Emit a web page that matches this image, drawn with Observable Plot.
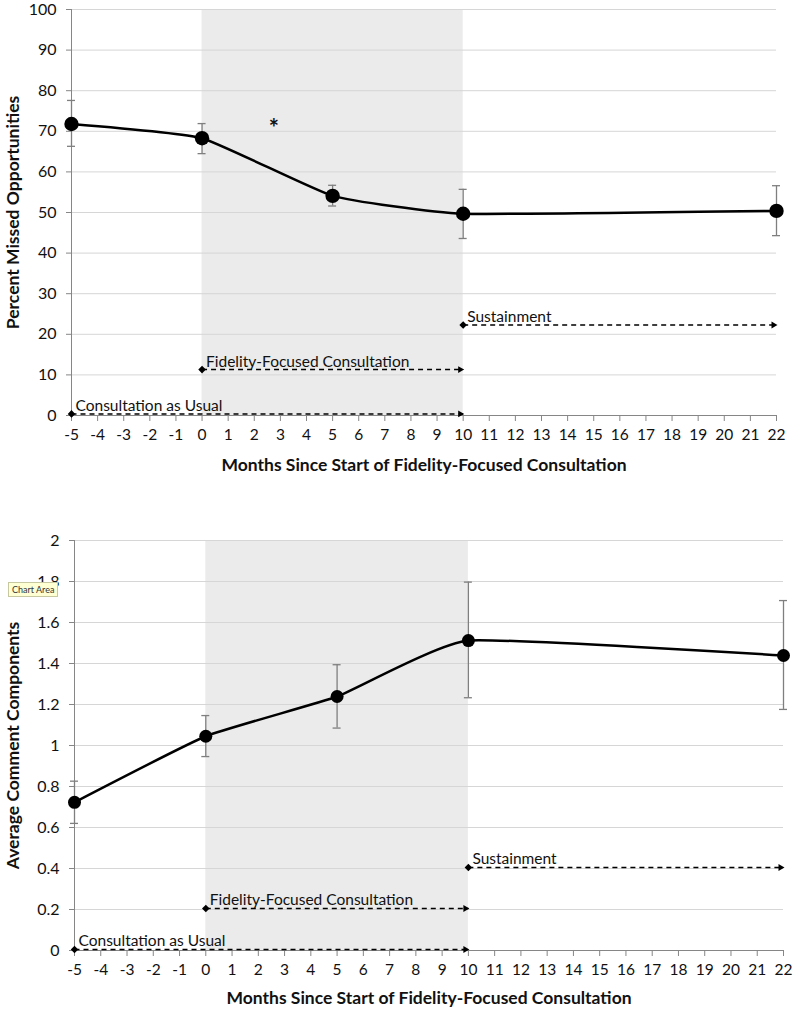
<!DOCTYPE html>
<html><head><meta charset="utf-8">
<script src="https://cdn.jsdelivr.net/npm/d3@7"></script>
<script src="https://cdn.jsdelivr.net/npm/@observablehq/plot@0.6"></script>
<style>
body{margin:0;background:#fff;}
#wrap{position:relative;width:800px;height:1013px;font-family:Lato,sans-serif;}
#top{position:absolute;left:0;top:0;}
#bottom{position:absolute;left:0;top:500px;}
#tip{position:absolute;left:8px;top:582px;font:9px Lato,sans-serif;color:#333;background:#ffffd4;border:1px solid #c8c8a0;padding:1px 3px;line-height:11px;}
</style></head><body>
<div id="wrap"><div id="top"></div><div id="bottom"></div><div id="tip">Chart Area</div></div>
<script>
// ---- data ----
const months = [-5, 0, 5, 10, 22];
const monthTicks = d3.range(-5, 23);

const missedPct = [71.8, 68.3, 54.1, 49.7, 50.4];
const missedLo  = [66.3, 64.5, 51.6, 43.6, 44.3];
const missedHi  = [77.6, 71.9, 56.7, 55.7, 56.6];
const missedTicks = d3.range(0, 101, 10);

const comments   = [0.723, 1.045, 1.239, 1.512, 1.439];
const commentsLo = [0.620, 0.946, 1.085, 1.233, 1.176];
const commentsHi = [0.826, 1.146, 1.394, 1.797, 1.707];
const commentTicks = d3.range(0, 11).map(i => i / 5);

const phases      = ["Consultation as Usual", "Fidelity-Focused Consultation", "Sustainment"];
const phaseStart  = [-5, 0, 10];
const phaseEnd    = [10, 10, 22];
const phaseLevelTop    = [0.4, 11.3, 22.3];
const phaseLevelBottom = [0.005, 0.205, 0.405];

const shadeStart = 0, shadeEnd = 10;
const starMonth = 2.75, starValue = 70.5;

const xTitle = "Months Since Start of Fidelity-Focused Consultation";

function chart(o) {
  const pts = months.map((m, i) => ({m, v: o.vals[i], lo: o.lo[i], hi: o.hi[i]}));
  const ph = phases.map((name, i) => ({name, s: phaseStart[i], e: phaseEnd[i], y: o.levels[i]}));
  const marks = [
    Plot.rectY([{x1: shadeStart, x2: shadeEnd}], {x1: "x1", x2: "x2", y1: o.ydomain[0], y2: o.ydomain[1], fill: "#ebebeb"}),
    Plot.gridY(o.yticks.filter(t => t > 0), {stroke: "#d6d6d6", strokeOpacity: 1, strokeWidth: 1}),
    Plot.ruleX([-5], {stroke: "#868686", strokeWidth: 1}),
    Plot.ruleY([0], {stroke: "#868686", strokeWidth: 1}),
    Plot.axisY(o.yticks, {tickSize: 5, tickPadding: 10, fontSize: 16, stroke: "#868686", fill: "#111", tickFormat: o.fmt, label: null}),
    Plot.axisX(monthTicks, {tickSize: 6, tickPadding: 7, fontSize: 15.5, stroke: "#868686", fill: "#111", tickFormat: d => String(d), label: null}),
    Plot.text([o.ytitle], {frameAnchor: "left", textAnchor: "middle", dx: o.ytdx, rotate: -90, fontSize: 17.5, fontWeight: "bold", fill: "#111"}),
    Plot.text([xTitle], {frameAnchor: "bottom", textAnchor: "middle", dy: o.xtdy, fontSize: 17.5, fontWeight: "bold", fill: "#111"}),
    // error bars
    Plot.ruleX(pts, {x: "m", y1: "lo", y2: "hi", stroke: "#7f7f7f", strokeWidth: 1.3}),
    Plot.ruleY(pts, {y: "lo", x1: "m", x2: "m", insetLeft: -4, insetRight: -4, stroke: "#7f7f7f", strokeWidth: 1.3}),
    Plot.ruleY(pts, {y: "hi", x1: "m", x2: "m", insetLeft: -4, insetRight: -4, stroke: "#7f7f7f", strokeWidth: 1.3}),
    // line & dots
    Plot.line(pts, {x: "m", y: "v", curve: "cardinal", tension: 0.6, stroke: "#000", strokeWidth: 2.5}),
    Plot.dot(pts, {x: "m", y: "v", r: o.r, fill: "#000"}),
    // phase annotations
    Plot.link(ph, {x1: "s", x2: "e", y1: "y", y2: "y", stroke: "#000", strokeWidth: 1.5, strokeDasharray: "5,4", insetRight: 3}),
    Plot.dot(ph, {x: "s", y: "y", symbol: "diamond2", r: 3.4, fill: "#000"}),
    Plot.dot(ph, {x: "e", y: "y", symbol: "triangle2", r: 3.3, fill: "#000", rotate: 90, dx: -3}),
    Plot.text(ph, {x: "s", y: "y", text: "name", textAnchor: "start", lineAnchor: "bottom", dx: 4, dy: -3, fontSize: 15.5, fill: "#111"})
  ];
  if (o.star) marks.push(Plot.text(["*"], {x: starMonth, y: starValue, fontSize: 24, fontWeight: "bold", fill: "#111"}));
  return Plot.plot({
    width: 800, height: o.height,
    marginTop: o.mt, marginBottom: o.mb, marginLeft: o.ml, marginRight: o.mr,
    style: {fontFamily: "Lato, sans-serif", background: "transparent", overflow: "visible"},
    x: {domain: [-5, 22], axis: null},
    y: {domain: o.ydomain, axis: null},
    marks
  });
}

document.getElementById("top").append(chart({
  vals: missedPct, lo: missedLo, hi: missedHi, ydomain: [0, 100], yticks: missedTicks,
  fmt: d => String(d), ytitle: "Percent Missed Opportunities", levels: phaseLevelTop,
  height: 500, mt: 9, mb: 85, ml: 71, mr: 24, ytdx: -58, xtdy: 55, r: 7.2, star: true
}));
document.getElementById("bottom").append(chart({
  vals: comments, lo: commentsLo, hi: commentsHi, ydomain: [0, 2], yticks: commentTicks,
  fmt: d => String(+d.toFixed(1)), ytitle: "Average Comment Components", levels: phaseLevelBottom,
  height: 513, mt: 40, mb: 63, ml: 74, mr: 17, ytdx: -61, xtdy: 53, r: 6.5, star: false
}));
</script>
</body></html>
